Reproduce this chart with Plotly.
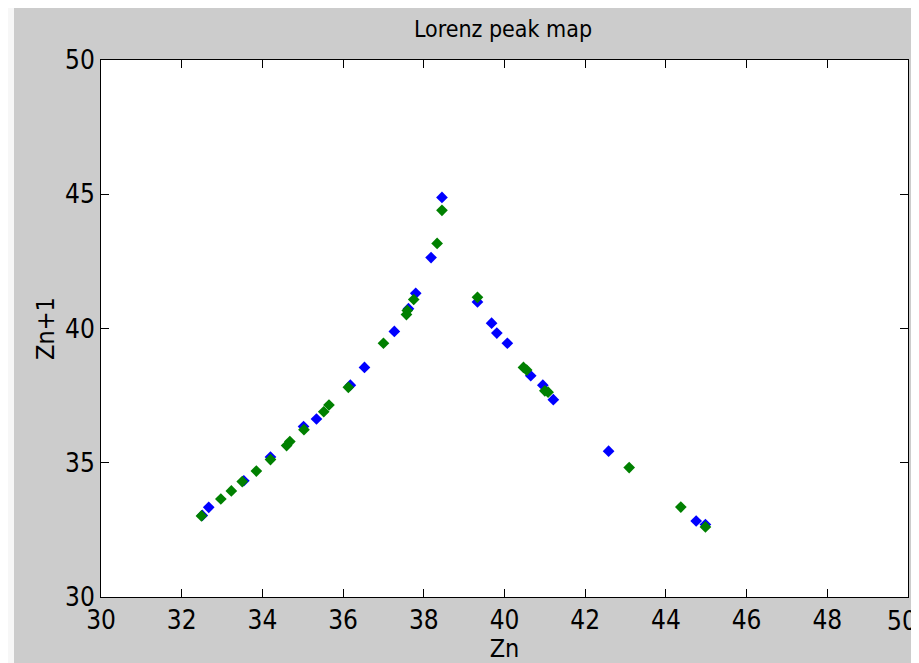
import plotly.graph_objects as go

# Blue series (Zn, Zn+1)
blue_x = [38.45, 38.18, 37.80, 37.62, 37.27, 36.53, 36.18, 35.34, 35.02, 34.20, 33.54, 32.67, 32.51,
          39.33, 39.68, 39.81, 40.07, 40.65, 40.95, 41.21, 42.58, 44.75, 44.98]
blue_y = [44.88, 42.64, 41.31, 40.74, 39.89, 38.55, 37.89, 36.63, 36.35, 35.21, 34.33, 33.34, 33.04,
          40.99, 40.20, 39.83, 39.45, 38.24, 37.89, 37.35, 35.43, 32.83, 32.70]

# Green series (Zn, Zn+1)
green_x = [38.45, 38.33, 37.75, 37.59, 37.57, 37.00, 36.13, 35.65, 35.52, 35.03, 34.68, 34.60, 34.20,
           33.85, 33.50, 33.23, 32.97, 32.49,
           39.33, 40.47, 40.55, 41.00, 41.08, 43.09, 44.37, 44.98]
green_y = [44.40, 43.17, 41.08, 40.67, 40.52, 39.45, 37.81, 37.15, 36.90, 36.23, 35.79, 35.64, 35.12,
           34.69, 34.30, 33.95, 33.65, 33.02,
           41.16, 38.55, 38.45, 37.68, 37.63, 34.82, 33.35, 32.61]

x_ticks = [30, 32, 34, 36, 38, 40, 42, 44, 46, 48, 50]
y_ticks = [30, 35, 40, 45, 50]

FONT = "Liberation Sans Narrow, DejaVu Sans Condensed, Liberation Sans, Arial, sans-serif"

fig = go.Figure()
fig.add_trace(go.Scatter(x=blue_x, y=blue_y, mode="markers",
                         marker=dict(symbol="diamond", size=9, color="#0000ff"),
                         showlegend=False))
fig.add_trace(go.Scatter(x=green_x, y=green_y, mode="markers",
                         marker=dict(symbol="diamond", size=9, color="#008000"),
                         showlegend=False))

# page body adds an 8px white margin; figure coordinates are screen - 8
W, H = 911, 655
L, R, T, B = 93, 11, 52, 66
pw, ph = W - L - R, H - T - B

# light strip continuing the left edge of the screenshot
fig.add_shape(type="rect", xref="paper", yref="paper",
              x0=-L / pw, x1=(6 - L) / pw, y0=-B / ph, y1=(H - B) / ph,
              fillcolor="#f7f7f7", line_width=0, layer="below")

# the last x tick label sits at the window edge: draw it right-aligned so it stays inside
x_ticktext = [str(v) for v in x_ticks[:-1]] + [""]
fig.add_annotation(text=str(x_ticks[-1]), xref="paper", yref="paper",
                   x=(W - L - 1) / pw, y=0, xanchor="right", yanchor="top",
                   yshift=-8, showarrow=False, borderpad=0,
                   font=dict(family=FONT, size=26, color="#000000"))

fig.update_layout(
    width=W, height=H,
    margin=dict(l=L, r=R, t=T, b=B, pad=0, autoexpand=False),
    paper_bgcolor="#cccccc",
    plot_bgcolor="#ffffff",
    font=dict(family=FONT, size=26, color="#000000"),
    title=dict(text="Lorenz peak map", x=495 / W, xanchor="center",
               y=1 - 21 / H, yanchor="middle", font=dict(family=FONT, size=23)),
    xaxis=dict(range=[30, 50], tickvals=x_ticks, ticktext=x_ticktext,
               showgrid=False, zeroline=False, showline=True, linecolor="#000000", linewidth=1,
               mirror="ticks", ticks="inside", ticklen=8, tickcolor="#000000",
               tickfont=dict(family=FONT, size=26), automargin=False,
               title=dict(text="Zn", font=dict(family=FONT, size=25), standoff=0)),
    yaxis=dict(range=[30, 50], tickvals=y_ticks, ticktext=[str(v) for v in y_ticks],
               showgrid=False, zeroline=False, showline=True, linecolor="#000000", linewidth=1,
               mirror="ticks", ticks="inside", ticklen=8, tickcolor="#000000",
               tickfont=dict(family=FONT, size=26), ticklabeloverflow="allow", automargin=False,
               title=dict(text="Zn+1", font=dict(family=FONT, size=25), standoff=3)),
)

fig.write_html("out.html")
